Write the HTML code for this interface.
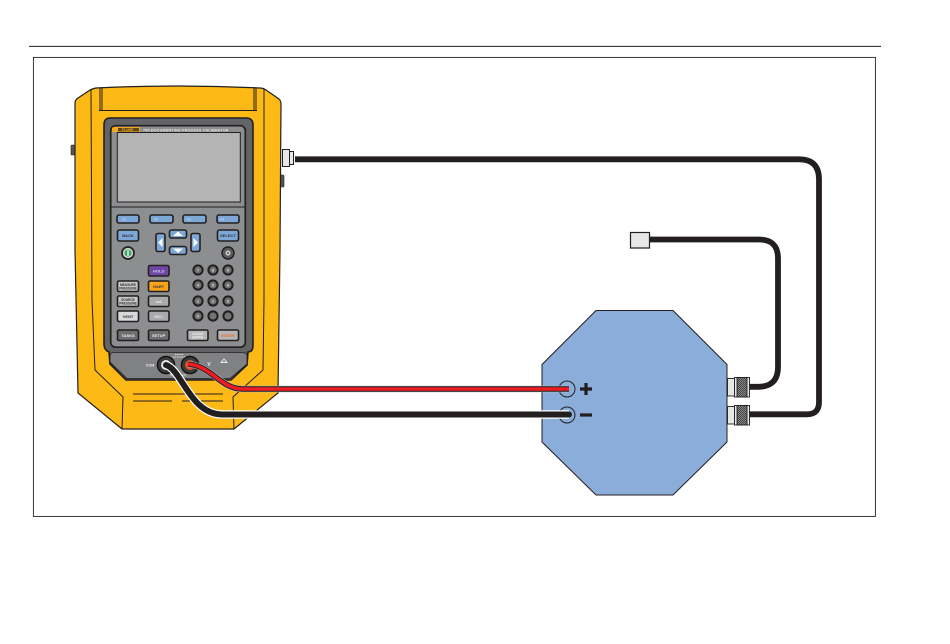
<!DOCTYPE html>
<html><head><meta charset="utf-8"><style>
html,body{margin:0;padding:0;background:#fff;width:950px;height:644px;overflow:hidden}
svg{display:block}
.k{stroke:#231f20;stroke-width:1.6}
.t{font-family:"Liberation Sans",sans-serif;font-weight:bold;font-size:4px;text-anchor:middle;fill:#333}
</style></head><body>
<svg width="950" height="644" viewBox="0 0 950 644" xmlns="http://www.w3.org/2000/svg">
<defs>
<pattern id="kn" width="2" height="2" patternUnits="userSpaceOnUse"><rect width="2" height="2" fill="#888"/><rect width="1" height="1" fill="#444"/><rect x="1" y="1" width="1" height="1" fill="#444"/></pattern>
</defs>
<rect width="950" height="644" fill="#fff"/>
<line x1="29" y1="46.4" x2="881" y2="46.4" stroke="#231f20" stroke-width="1"/>
<rect x="33.4" y="57.4" width="842" height="459" fill="#fff" stroke="#231f20" stroke-width="0.9"/>

<!-- side bumps -->
<rect x="71" y="145" width="4" height="10" rx="1" fill="#555" stroke="#231f20" stroke-width=".6"/>
<rect x="280" y="175" width="4" height="12" rx="1" fill="#555" stroke="#231f20" stroke-width=".6"/>

<!-- body -->
<path d="M75 103Q75 100 78 98L90 90Q92 89 96 88Q178 84 260 88Q263 88 266 90L279 99Q281 101 281 104L280 250L278 393L234 429L122 429L78 393L75 250Z" fill="#fdb916" stroke="#231f20" stroke-width="1.2"/>
<g fill="none" stroke="#231f20" stroke-width="1">
<path d="M91 89L92 300L95 370L123 397L122 429"/>
<path d="M264 89L264 300L263 370L233 397L234 429"/>
<path d="M100 87.5L100 110M102 87L102 110M254 87L254 110M256 87.5L256 110M99 110.5L257 110.5"/>
<path d="M133 394L223 394M133 401L172 401M182 401L223 401"/>
</g>

<!-- bezel -->
<path d="M110 118H246Q253 118 253 125V345Q253 352 248 352L247 365L231 380H126L110 364L109 352Q104 350 104 344V125Q104 118 110 118Z" fill="#636466" stroke="#231f20" stroke-width="1.6"/>
<path d="M114 352.5H242Q247 352.5 247 356V364L230 378.5H127L110 362V356Q110 352.5 114 352.5Z" fill="#808183" stroke="#231f20" stroke-width=".8"/>
<rect x="110.7" y="125.7" width="134.6" height="221.5" rx="5" fill="#8d8e90" stroke="#231f20" stroke-width="1.7"/>
<path d="M114 127H140V132H112V129Q112 127 114 127Z" fill="#f5a81c"/>
<rect x="118" y="128" width="21" height="3.4" fill="#5a4a20"/>
<text x="122" y="131" style="font:bold 3.4px 'Liberation Sans',sans-serif" fill="#f5a81c">FLUKE</text>
<text x="143" y="131.3" style="font:bold 3.6px 'Liberation Sans',sans-serif;letter-spacing:.25px" fill="#e6e6e6">754 DOCUMENTING PROCESS CALIBRATOR</text>
<rect x="117.3" y="132.5" width="123" height="69.5" fill="#b4b4b5" stroke="#231f20" stroke-width="1"/>
<line x1="111" y1="207" x2="245" y2="207" stroke="#231f20" stroke-width="1"/>

<!-- F keys -->
<g fill="#7da7d6" class="k">
<rect x="117" y="215" width="22" height="8" rx="2"/><rect x="150" y="215" width="23" height="8" rx="2"/>
<rect x="183" y="215" width="23" height="8" rx="2"/><rect x="217" y="215" width="22" height="8" rx="2"/>
<rect x="117.5" y="230" width="21" height="11" rx="2"/><rect x="217.5" y="230" width="21" height="11" rx="2"/>
<rect x="169.5" y="230" width="17" height="8" rx="2"/><rect x="169.5" y="246.5" width="17" height="8" rx="2"/>
<rect x="156" y="233.5" width="9" height="18" rx="2"/><rect x="191" y="233.5" width="9" height="18" rx="2"/>
</g>
<text class="t" x="124" y="220.5" style="fill:#dfe9f5;font-size:3px">F1</text>
<text class="t" x="156" y="220.5" style="fill:#dfe9f5;font-size:3px">F2</text>
<text class="t" x="189" y="220.5" style="fill:#dfe9f5;font-size:3px">F3</text>
<text class="t" x="222" y="220.5" style="fill:#dfe9f5;font-size:3px">F4</text>
<text class="t" x="128" y="237">BACK</text><text class="t" x="228" y="237">SELECT</text>
<g fill="#fff"><path d="M178 231.5L183 236H173Z"/><path d="M178 253L183 248.5H173Z"/><path d="M158 242.5L162.5 238V247Z"/><path d="M198 242.5L193.5 238V247Z"/></g>

<circle cx="128" cy="253" r="6" fill="#d8d8d8" stroke="#231f20" stroke-width="1.8"/>
<circle cx="128" cy="253" r="3.6" fill="#3aa564"/><rect x="127.3" y="250" width="1.4" height="6" fill="#e8f4ec"/>
<circle cx="228" cy="253" r="6" fill="#58595b" stroke="#231f20" stroke-width="1.4"/>
<circle cx="228" cy="253" r="2.6" fill="#c8c8c8"/><circle cx="228" cy="253" r="1" fill="#58595b"/>

<!-- keys -->
<g class="k">
<rect x="148.5" y="265.5" width="20.5" height="10.5" rx="1.5" fill="#6f47a5"/>
<rect x="148.5" y="281" width="20.5" height="10.5" rx="1.5" fill="#f8a51b"/>
<rect x="148.5" y="296" width="20.5" height="10.5" rx="1.5" fill="#a9aaac"/>
<rect x="148.5" y="311" width="20.5" height="10.5" rx="1.5" fill="#a9aaac"/>
<rect x="117.5" y="281" width="21" height="10.5" rx="1.5" fill="#c6c7c8"/>
<rect x="117.5" y="296" width="21" height="10.5" rx="1.5" fill="#c6c7c8"/>
<rect x="117.5" y="311" width="21" height="10.5" rx="1.5" fill="#d8d9da"/>
<rect x="117.5" y="330" width="21" height="10.5" rx="1.5" fill="#6d6e70"/>
<rect x="148.5" y="330" width="20.5" height="10.5" rx="1.5" fill="#6d6e70"/>
<rect x="187.5" y="330" width="20.5" height="10.5" rx="1.5" fill="#b5b6b8"/>
<rect x="217.5" y="330" width="21" height="10.5" rx="1.5" fill="#b5b6b8"/>
</g>
<text class="t" x="158.7" y="272.3" style="fill:#d9cdea">HOLD</text>
<text class="t" x="158.7" y="287.8">HART</text>
<text class="t" x="158.7" y="302.8" style="fill:#e6e6e6">mA</text>
<text class="t" x="158.7" y="317.8" style="fill:#e6e6e6">RDC</text>
<text class="t" x="128" y="285.8" style="font-size:3.2px">MEASURE</text><text class="t" x="128" y="289.3" style="font-size:3.2px">PRESSURE</text>
<text class="t" x="128" y="300.8" style="font-size:3.2px">SOURCE</text><text class="t" x="128" y="304.3" style="font-size:3.2px">PRESSURE</text>
<text class="t" x="128" y="317.8">VENT</text>
<text class="t" x="128" y="336.8" style="fill:#eee">TASKS</text>
<text class="t" x="158.7" y="336.8" style="fill:#eee">SETUP</text>
<text class="t" x="197.7" y="334.8" style="font-size:3.2px;fill:#eee">CLEAR</text><text class="t" x="197.7" y="338.5" style="font-size:3.2px;fill:#eee">(ZERO)</text>
<text class="t" x="228" y="336.8" style="fill:#f26a21">ENTER</text>

<!-- number pad -->
<g fill="#717274" stroke="#231f20" stroke-width="2">
<circle cx="198" cy="270" r="4.6"/><circle cx="213" cy="270" r="4.6"/><circle cx="228" cy="270" r="4.6"/>
<circle cx="198" cy="285" r="4.6"/><circle cx="213" cy="285" r="4.6"/><circle cx="228" cy="285" r="4.6"/>
<circle cx="198" cy="301" r="4.6"/><circle cx="213" cy="301" r="4.6"/><circle cx="228" cy="301" r="4.6"/>
<circle cx="198" cy="316" r="4.6"/><circle cx="213" cy="316" r="4.6"/><circle cx="228" cy="316" r="4.6"/>
</g>
<g class="t" style="font-size:4px;fill:#ddd">
<text x="198" y="271.5">7</text><text x="213" y="271.5">8</text><text x="228" y="271.5">9</text>
<text x="198" y="286.5">4</text><text x="213" y="286.5">5</text><text x="228" y="286.5">6</text>
<text x="198" y="302.5">1</text><text x="213" y="302.5">2</text><text x="228" y="302.5">3</text>
<text x="198" y="317.5">0</text><text x="213" y="317.5">.</text>
</g>

<!-- jack labels -->
<text class="t" x="150" y="366.5" style="fill:#eee;font-size:3.6px">COM</text>
<text class="t" x="209" y="366" style="fill:#eee;font-size:5px">V</text>
<path d="M224 359L221 362.5H227Z" fill="none" stroke="#eee" stroke-width=".9"/>
<path d="M173 357H186M175 354.5H184" stroke="#ddd" stroke-width="1" fill="none" stroke-dasharray="1.2 .6"/>
<path d="M170 375H186" stroke="#ddd" stroke-width=".8"/>

<!-- jacks -->
<circle cx="166" cy="365" r="8.6" fill="#3a3a3c" stroke="#111" stroke-width="1.4"/>
<circle cx="166" cy="365" r="5" fill="#e6e6e6"/>
<circle cx="190" cy="365" r="8.6" fill="#3a3a3c" stroke="#111" stroke-width="1.4"/>
<circle cx="190" cy="365" r="5" fill="#e8502a"/>

<!-- octagon -->
<path d="M596 310.5H673L727 364.5V442L673 495H596L542 442V364.5Z" fill="#8aaed9" stroke="#231f20" stroke-width="1"/>
<circle cx="567" cy="389" r="8" fill="none" stroke="#231f20" stroke-width="1"/>
<circle cx="567" cy="415" r="8" fill="none" stroke="#231f20" stroke-width="1"/>
<path d="M580 389H592M586 383V395" stroke="#231f20" stroke-width="3.2" fill="none"/>
<path d="M580 415H592" stroke="#231f20" stroke-width="3.2" fill="none"/>

<!-- red wire -->
<path d="M188 364C212 366 220 389 243 389H569" fill="none" stroke="#bbb" stroke-width="6.6"/>
<path d="M188 364C212 366 220 389 243 389H569" fill="none" stroke="#231f20" stroke-width="5.6"/>
<path d="M188 364C212 366 220 389 243 389H569" fill="none" stroke="#ed1c24" stroke-width="3.6"/>

<!-- black lead -->
<path d="M166 365C182 370 190 414 222 414.5H569" fill="none" stroke="#fff" stroke-width="8.4"/>
<path d="M166 365C182 370 190 414 222 414.5H569" fill="none" stroke="#231f20" stroke-width="6" stroke-linecap="round"/>

<!-- coax wires -->
<path d="M295 159.3H799Q819 159.3 819 179.3V402Q819 414.3 807 414.3H749" fill="none" stroke="#231f20" stroke-width="5.8"/>
<path d="M650 239.5H759Q778 239.5 778 258.5V367Q778 386.8 758 386.8H749" fill="none" stroke="#231f20" stroke-width="5.8"/>

<!-- sensor box -->
<rect x="630.5" y="232.5" width="19" height="15.5" fill="#e6e7e8" stroke="#231f20" stroke-width="1.2"/>

<!-- top connector -->
<rect x="282.5" y="149.5" width="7" height="17" fill="#e6e7e8" stroke="#231f20" stroke-width="1"/>
<path d="M289.5 151.5H293.5V164.5H289.5Z" fill="#e6e7e8" stroke="#231f20" stroke-width="1"/>

<!-- BNC -->
<g stroke="#231f20" stroke-width=".9">
<rect x="727.5" y="378.5" width="7" height="17.5" fill="#e6e7e8"/>
<rect x="734.5" y="377.5" width="15" height="19.5" fill="#e6e7e8"/>
<rect x="737" y="377.5" width="10" height="19.5" fill="url(#kn)"/>
<rect x="727.5" y="406.5" width="7" height="17.5" fill="#e6e7e8"/>
<rect x="734.5" y="405.5" width="15" height="19.5" fill="#e6e7e8"/>
<rect x="737" y="405.5" width="10" height="19.5" fill="url(#kn)"/>
</g>
</svg>
</body></html>
